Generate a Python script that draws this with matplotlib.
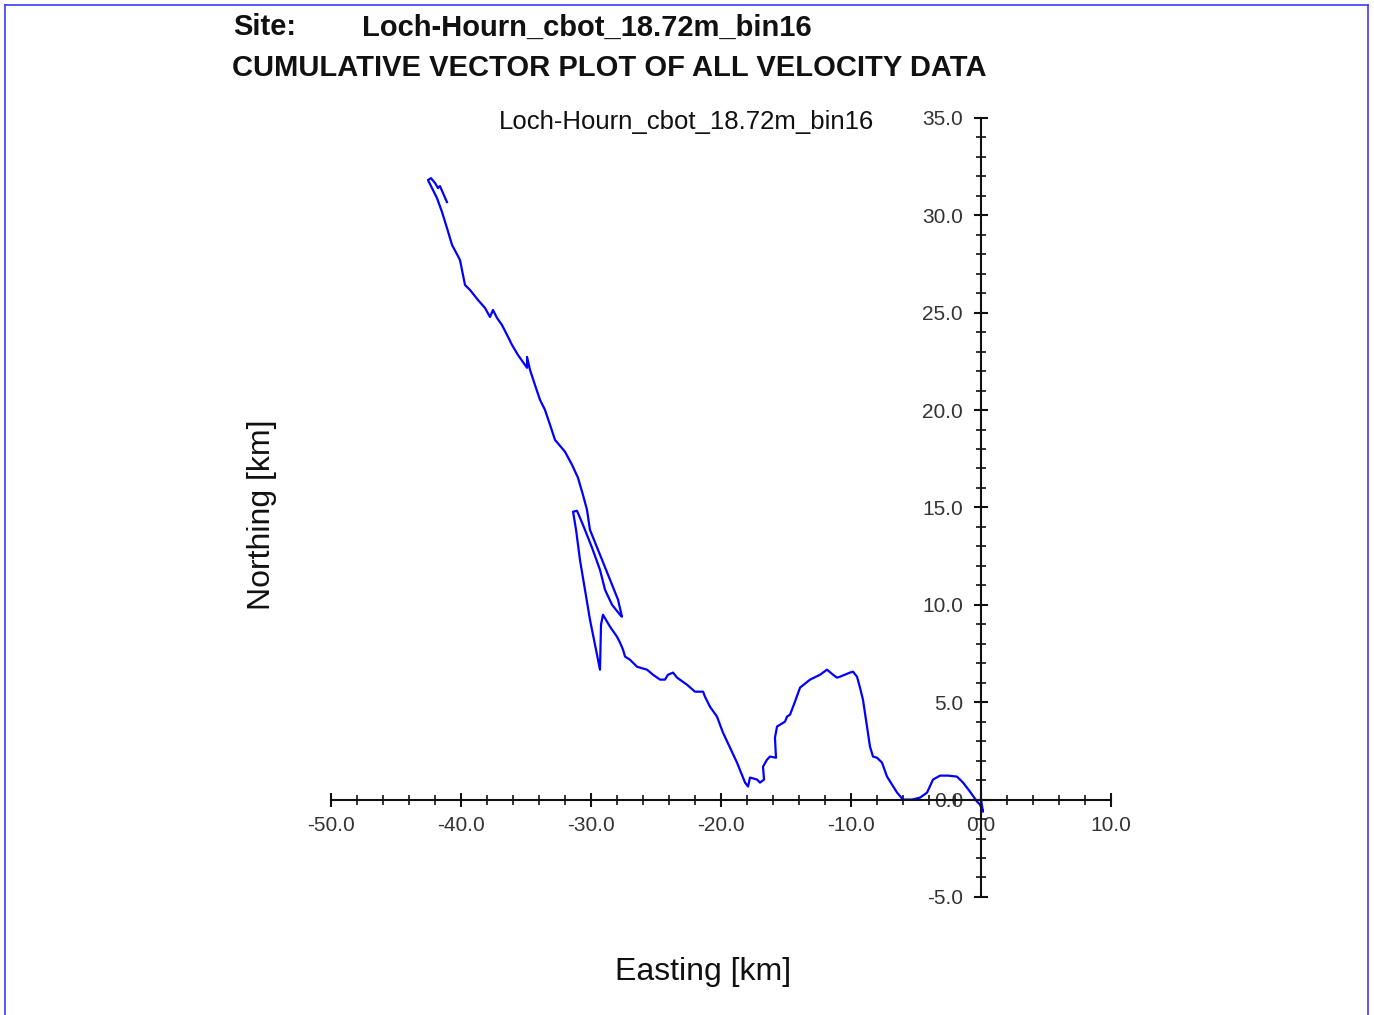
import matplotlib
matplotlib.use("Agg")
import matplotlib.pyplot as plt
from matplotlib.lines import Line2D
from matplotlib.ticker import MultipleLocator, FormatStrFormatter

plt.rcParams['font.family'] = ['Liberation Sans', 'DejaVu Sans']

site = "Loch-Hourn_cbot_18.72m_bin16"

# cumulative displacement track, km
easting = [0.0, 0.15, -0.08, -0.31, -0.85, -1.38, -1.85, -2.54, -3.15, -3.69,
           -4.15, -4.69, -5.31, -6.0, -6.46, -7.23, -7.62, -8.0, -8.31, -8.54,
           -8.77, -9.08, -9.31, -9.54, -9.85, -10.08, -10.85, -11.08, -11.38, -11.85,
           -12.38, -13.15, -13.92, -14.31, -14.69, -14.92, -15.08, -15.69, -15.85, -15.77,
           -16.23, -16.46, -16.77, -16.69, -17.0, -17.23, -17.77, -17.92, -18.15, -18.77,
           -19.31, -19.85, -20.31, -20.85, -21.23, -21.38, -22.0, -22.62, -23.38, -23.69,
           -24.08, -24.31, -24.69, -25.23, -25.69, -26.46, -27.0, -27.38, -27.54, -27.77,
           -28.0, -28.54, -29.08, -29.23, -29.31, -29.46, -29.77, -30.08, -30.46, -30.85,
           -31.15, -31.38, -31.08, -30.62, -29.92, -29.31, -28.92, -28.38, -27.77, -27.62,
           -27.92, -28.38, -29.0, -29.62, -30.08, -30.31, -30.62, -31.0, -31.46, -32.0,
           -32.77, -33.15, -33.54, -33.92, -34.31, -34.69, -34.92, -34.92, -35.08, -35.62,
           -36.08, -36.46, -36.85, -37.23, -37.54, -37.77, -38.15, -38.69, -39.31, -39.69,
           -39.92, -40.08, -40.69, -41.08, -41.46, -41.85, -42.23, -42.54, -42.31, -42.0,
           -41.77, -41.62, -41.38, -41.08]
northing = [0.0, -0.62, -0.26, -0.10, 0.41, 0.87, 1.18, 1.23, 1.23, 1.03,
            0.36, 0.10, 0.0, 0.0, 0.36, 1.18, 1.90, 2.15, 2.21, 2.72,
            3.75, 5.13, 5.75, 6.31, 6.57, 6.52, 6.31, 6.26, 6.41, 6.67,
            6.41, 6.16, 5.75, 5.03, 4.36, 4.26, 4.0, 3.75, 3.18, 2.15,
            2.21, 2.05, 1.69, 1.03, 0.87, 1.03, 1.13, 0.67, 0.87, 1.90,
            2.67, 3.44, 4.26, 4.77, 5.28, 5.54, 5.54, 5.90, 6.26, 6.52,
            6.41, 6.16, 6.16, 6.41, 6.67, 6.82, 7.18, 7.34, 7.70, 8.06,
            8.36, 8.88, 9.49, 8.98, 6.67, 7.18, 8.21, 9.24, 10.77, 12.31,
            13.85, 14.78, 14.83, 14.11, 12.93, 11.80, 10.77, 10.0, 9.49, 9.39,
            10.26, 11.03, 12.06, 13.08, 13.85, 14.88, 15.65, 16.52, 17.19, 17.86,
            18.47, 19.24, 20.01, 20.52, 21.29, 22.06, 22.73, 22.17, 22.32, 22.83,
            23.35, 23.86, 24.37, 24.73, 25.14, 24.78, 25.24, 25.65, 26.17, 26.42,
            27.19, 27.71, 28.48, 29.35, 30.17, 30.89, 31.40, 31.81, 31.91, 31.66,
            31.40, 31.50, 31.14, 30.68]

fig = plt.figure(figsize=(13.74, 10.15), dpi=100)
ax = fig.add_axes([0.2409, 0.1163, 0.5677, 0.7675])

ax.plot(easting, northing, color='#0000ff', lw=1.6)

ax.set_xlim(-50, 10)
ax.set_ylim(-5, 35)
ax.spines['left'].set_position(('data', 0))
ax.spines['bottom'].set_position(('data', 0))
ax.spines['top'].set_visible(False)
ax.spines['right'].set_visible(False)
for s in ('left', 'bottom'):
    ax.spines[s].set_linewidth(1.5)
    ax.spines[s].set_color('#111111')

ax.xaxis.set_major_locator(MultipleLocator(10))
ax.xaxis.set_minor_locator(MultipleLocator(2))
ax.yaxis.set_major_locator(MultipleLocator(5))
ax.yaxis.set_minor_locator(MultipleLocator(1))
ax.xaxis.set_major_formatter(FormatStrFormatter('%.1f'))
ax.yaxis.set_major_formatter(FormatStrFormatter('%.1f'))
ax.tick_params(which='major', direction='inout', length=10, width=1.5,
               color='#111111', labelsize=15, labelcolor='#333333', pad=7)
ax.tick_params(which='minor', direction='inout', length=7, width=1.2, color='#111111')
ax.tick_params(axis='y', which='major', pad=8)

ax.text(0.456, 0.995, site, transform=ax.transAxes, ha='center', va='center',
        fontsize=18.5, color='#111111')

fig.text(0.1907, 0.4926, 'Northing [km]', rotation=90, ha='center', va='center',
         fontsize=23, color='#111111')
fig.text(0.5116, 0.0424, 'Easting [km]', ha='center', va='center',
         fontsize=23, color='#111111')

fig.text(0.1695, 0.973, 'Site:', fontsize=21, fontweight='bold', va='center',
         color='#111111')
fig.text(0.2635, 0.973, site, fontsize=21, fontweight='bold', va='center',
         color='#111111')
fig.text(0.1685, 0.933, 'CUMULATIVE VECTOR PLOT OF ALL VELOCITY DATA', fontsize=21,
         fontweight='bold', va='center', color='#111111')

# thin blue page frame
for xs, ys in (([0.0036, 0.0036], [0, 0.995]), ([0.0036, 0.9956], [0.995, 0.995]),
               ([0.9956, 0.9956], [0, 0.995])):
    fig.add_artist(Line2D(xs, ys, transform=fig.transFigure, color='#3b3bff', lw=1.2))

fig.savefig('out.png', dpi=100)
